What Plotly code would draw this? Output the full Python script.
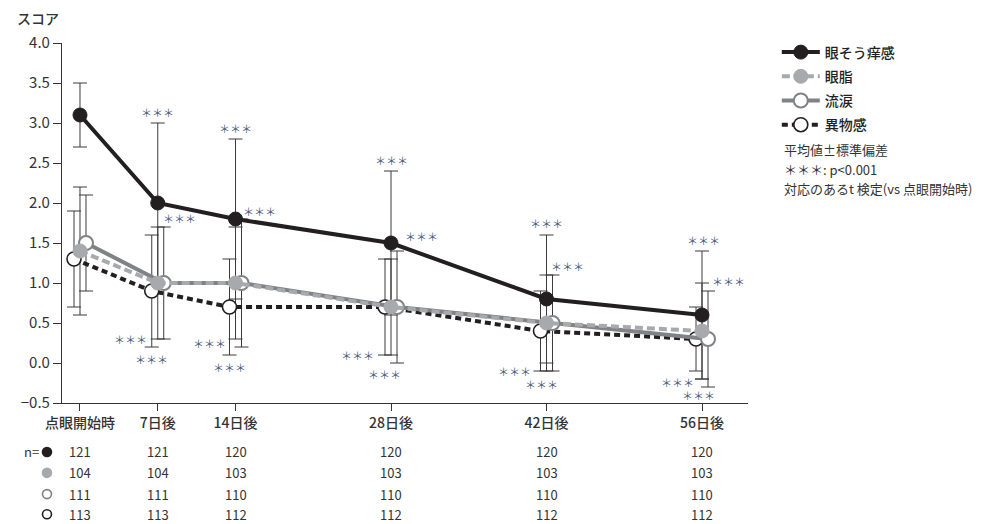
import plotly.graph_objects as go

# ---- data -------------------------------------------------------------
days = [0, 7, 14, 28, 42, 56]
day_labels = ["点眼開始時", "7日後", "14日後", "28日後", "42日後", "56日後"]

itch_mean = [3.1, 2.0, 1.8, 1.5, 0.8, 0.6]
itch_sd = [0.4, 1.0, 1.0, 0.9, 0.8, 0.8]

discharge_mean = [1.4, 1.0, 1.0, 0.7, 0.5, 0.4]
discharge_sd = [0.8, 0.7, 0.7, 0.6, 0.6, 0.6]

tearing_mean = [1.5, 1.0, 1.0, 0.7, 0.5, 0.3]
tearing_sd = [0.6, 0.7, 0.8, 0.7, 0.6, 0.6]

foreign_mean = [1.3, 0.9, 0.7, 0.7, 0.4, 0.3]
foreign_sd = [0.6, 0.7, 0.6, 0.6, 0.5, 0.4]

n_itch = [121, 121, 120, 120, 120, 120]
n_discharge = [104, 104, 103, 103, 103, 103]
n_tearing = [111, 111, 110, 110, 110, 110]
n_foreign = [113, 113, 112, 112, 112, 112]

# ---- styling ----------------------------------------------------------
FONT = "Noto Sans CJK JP"
TXT = "#333333"
BLACK = "#231f20"
LIGHT = "#a7a9ac"
MID = "#808285"
STAR = "#4a5a7a"
X_RANGE = [-1.62, 60.14]
DODGE = 0.54  # horizontal shift (in days) so overlapping error bars stay readable

series = {
    "foreign": dict(name="異物感", mean=foreign_mean, sd=foreign_sd, dx=-DODGE,
                    line=dict(color=BLACK, width=4, dash="6px,4px"),
                    marker=dict(size=14, color="white", line=dict(color=BLACK, width=1.6)),
                    rank=4),
    "tearing": dict(name="流涙", mean=tearing_mean, sd=tearing_sd, dx=DODGE,
                    line=dict(color=MID, width=4),
                    marker=dict(size=14, color="white", line=dict(color=MID, width=2)),
                    rank=3),
    "discharge": dict(name="眼脂", mean=discharge_mean, sd=discharge_sd, dx=0.0,
                      line=dict(color=LIGHT, width=4, dash="8px,4px"),
                      marker=dict(size=14, color=LIGHT, line=dict(color=LIGHT, width=1)),
                      rank=2),
    "itch": dict(name="眼そう痒感", mean=itch_mean, sd=itch_sd, dx=0.0,
                 line=dict(color=BLACK, width=4),
                 marker=dict(size=14, color=BLACK, line=dict(color=BLACK, width=1)),
                 rank=1),
}
draw_order = ["foreign", "tearing", "discharge", "itch"]

fig = go.Figure()

# error bars first so every line and marker sits on top of them
for key in draw_order:
    s = series[key]
    fig.add_trace(go.Scatter(
        x=[d + s["dx"] for d in days], y=s["mean"], mode="markers",
        marker=dict(size=1, color="rgba(0,0,0,0)"),
        error_y=dict(type="data", array=s["sd"], symmetric=True,
                     color="#3b3b3b", thickness=1, width=7),
        showlegend=False, hoverinfo="skip", cliponaxis=False))

for key in draw_order:
    s = series[key]
    fig.add_trace(go.Scatter(
        x=[d + s["dx"] for d in days], y=s["mean"], mode="lines+markers",
        name=s["name"], line=s["line"], marker=s["marker"],
        legendrank=s["rank"], legendgroup=key, cliponaxis=False))

# ---- significance marks (anchored to a series' mean or SD end) ---------
def anchor(key, i, end):
    s = series[key]
    if end == "hi":
        return s["mean"][i] + s["sd"][i]
    if end == "lo":
        return s["mean"][i] - s["sd"][i]
    return s["mean"][i]

stars = [
    # (time index, series, end, x shift px, y shift px)
    (1, "itch", "hi", 0, 11), (1, "tearing", "hi", 22, 9),
    (1, "foreign", "lo", -27, 8), (1, "discharge", "lo", -6, -20),
    (2, "itch", "hi", 0, 11), (2, "itch", "mean", 24, 8),
    (2, "foreign", "lo", -26, 12), (2, "tearing", "lo", -6, -20),
    (3, "itch", "hi", 0, 11), (3, "itch", "mean", 30, 7),
    (3, "foreign", "lo", -34, 0), (3, "tearing", "lo", -7, -11),
    (4, "itch", "hi", 0, 12), (4, "tearing", "hi", 21, 9),
    (4, "foreign", "lo", -32, 0), (4, "foreign", "lo", -5, -13),
    (5, "itch", "hi", 1, 11), (5, "discharge", "hi", 26, 2),
    (5, "foreign", "lo", -25, -11), (5, "tearing", "lo", -4, -8),
]
annotations = []
for i, key, end, xs, ys in stars:
    annotations.append(dict(
        x=days[i], y=anchor(key, i, end), xref="x", yref="y",
        text="＊＊＊", showarrow=False, xshift=xs, yshift=ys,
        font=dict(family=FONT, size=11, color=STAR)))

# ---- axis title and notes ---------------------------------------------
annotations.append(dict(x=-0.069, y=1.069, xref="paper", yref="paper",
                        xanchor="left", yanchor="middle", text="スコア", showarrow=False,
                        font=dict(family=FONT, size=14, color=TXT, weight=500)))
notes = ["平均値±標準偏差", "＊＊＊: p<0.001", "対応のあるt 検定(vs 点眼開始時)"]
for j, line in enumerate(notes):
    annotations.append(dict(x=1.049, y=0.703 - j * 0.054, xref="paper", yref="paper",
                            xanchor="left", yanchor="middle", text=line, showarrow=False,
                            font=dict(family=FONT, size=13, color=TXT)))

# ---- n table under the axis -------------------------------------------
n_rows = [n_itch, n_discharge, n_tearing, n_foreign]
row_y = [-0.136, -0.194, -0.253, -0.309]
row_dots = [
    dict(fill=BLACK, line=BLACK),
    dict(fill=LIGHT, line=LIGHT),
    dict(fill="white", line=MID),
    dict(fill="white", line=BLACK),
]
shapes = []
annotations.append(dict(x=-0.03, y=row_y[0], xref="paper", yref="paper",
                        xanchor="right", yanchor="middle", text="n=", showarrow=False,
                        font=dict(family=FONT, size=13, color=TXT)))
for r, counts in enumerate(n_rows):
    shapes.append(dict(type="circle", xref="paper", yref="paper",
                       xsizemode="pixel", ysizemode="pixel",
                       xanchor=-0.0219, yanchor=row_y[r],
                       x0=-4.5, x1=4.5, y0=-4.5, y1=4.5,
                       fillcolor=row_dots[r]["fill"],
                       line=dict(color=row_dots[r]["line"], width=1.6)))
    for d, n in zip(days, counts):
        annotations.append(dict(x=d, y=row_y[r], xref="x", yref="paper",
                                xanchor="center", yanchor="middle", text=str(n),
                                showarrow=False,
                                font=dict(family=FONT, size=13, color=TXT)))

fig.update_layout(
    width=1004, height=524,
    margin=dict(l=62, r=256, t=43, b=121),
    paper_bgcolor="white", plot_bgcolor="white",
    font=dict(family=FONT, color=TXT),
    showlegend=True,
    legend=dict(x=1.042, y=1.018, xanchor="left", yanchor="top",
                font=dict(family=FONT, size=14, color=BLACK, weight=500),
                tracegroupgap=3, bgcolor="rgba(0,0,0,0)", itemwidth=38),
    xaxis=dict(range=X_RANGE, tickmode="array", tickvals=days, ticktext=day_labels,
               showgrid=False, zeroline=False, showline=True, linecolor=TXT,
               linewidth=1.2, ticks="outside", ticklen=7, tickcolor=TXT,
               tickfont=dict(family=FONT, size=14, color=TXT, weight=500)),
    yaxis=dict(range=[-0.5, 4.0], tickmode="linear", tick0=-0.5, dtick=0.5,
               tickformat=".1f", showgrid=False, zeroline=False, showline=True,
               linecolor=TXT, linewidth=1.2, ticks="outside", ticklen=8,
               tickcolor=TXT, tickfont=dict(family=FONT, size=15, color=TXT)),
    annotations=annotations,
    shapes=shapes,
)

fig.write_html("out.html")
